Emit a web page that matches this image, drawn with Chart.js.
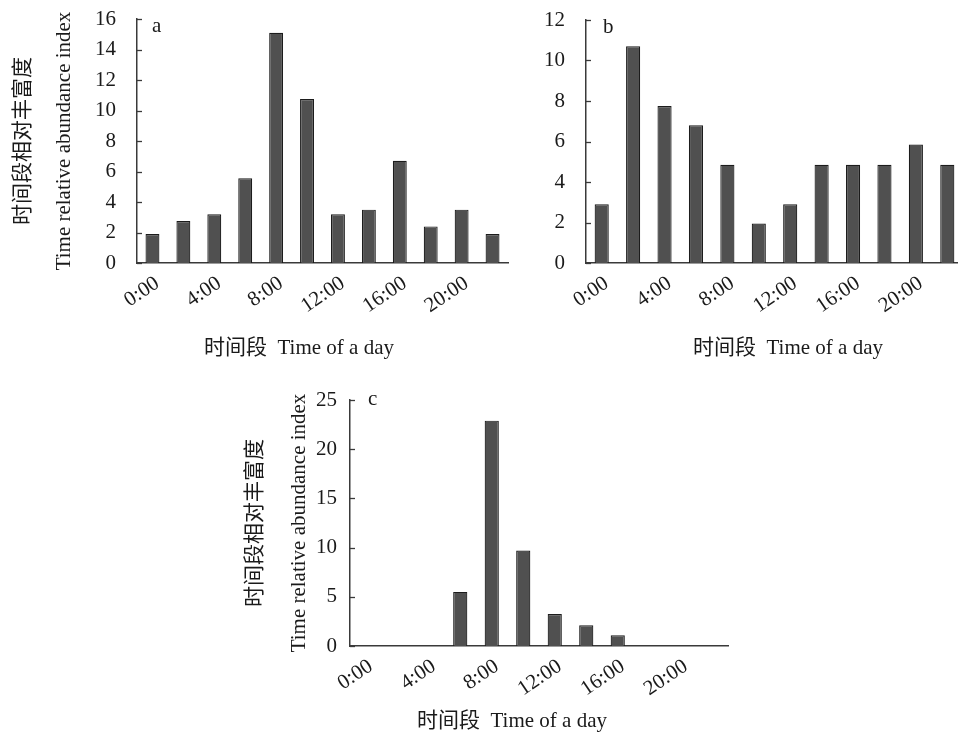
<!DOCTYPE html>
<html>
<head>
<meta charset="utf-8">
<script src="https://cdn.jsdelivr.net/npm/chart.js@4.4.1/dist/chart.umd.min.js"></script>
<style>
  html, body { margin: 0; padding: 0; background: #fff; }
  body { position: relative; width: 958px; height: 733px; overflow: hidden; }
  canvas { position: absolute; }
  .cap { position: absolute; font: 21px "Liberation Serif", "Noto Sans CJK SC", serif; color: #1a1a1a;
         white-space: pre; line-height: 1; transform: translate(-50%, -50%); }
  .tag { position: absolute; font: 21px "Liberation Serif", serif; line-height: 20px; color: #1a1a1a; }
</style>
</head>
<body>
<canvas id="chartA" width="520" height="370" style="left:0;top:0"></canvas>
<canvas id="chartB" width="460" height="370" style="left:520px;top:0"></canvas>
<canvas id="chartC" width="520" height="353" style="left:230px;top:380px"></canvas>

<div class="tag" style="left:152px;top:15px">a</div>
<div class="tag" style="left:603px;top:16px">b</div>
<div class="tag" style="left:368px;top:388px">c</div>

<div class="cap" style="left:299px;top:347px">时间段  Time of a day</div>
<div class="cap" style="left:788px;top:347px">时间段  Time of a day</div>
<div class="cap" style="left:512px;top:720px">时间段  Time of a day</div>

<script>
const hours = ['0:00', '2:00', '4:00', '6:00', '8:00', '10:00', '12:00', '14:00', '16:00', '18:00', '20:00', '22:00'];
const shownHours = ['0:00', '4:00', '8:00', '12:00', '16:00', '20:00'];

const valuesA = [1.9, 2.75, 3.2, 5.55, 15.1, 10.75, 3.2, 3.5, 6.7, 2.4, 3.5, 1.9];
const valuesB = [2.9, 10.7, 7.75, 6.8, 4.85, 1.95, 2.9, 4.85, 4.85, 4.85, 5.85, 4.85];
const valuesC = [0, 0, 0, 5.5, 22.9, 9.7, 3.25, 2.1, 1.1, 0, 0, 0];

const yRangeA = [0, 16, 2];
const yRangeB = [0, 12, 2];
const yRangeC = [0, 25, 5];

const yTitle = ['时间段相对丰富度', 'Time relative abundance index'];

const FONT = '"Liberation Serif", "Noto Sans CJK SC", serif';
const INK = '#1a1a1a';
const AXIS = '#3a3a3a';

// short tick marks pointing into the plot, like the original
const innerTicks = {
    id: 'innerTicks',
    afterDraw(chart) {
        const y = chart.scales.y, ctx = chart.ctx, left = chart.chartArea.left;
        ctx.save();
        ctx.strokeStyle = AXIS;
        ctx.lineWidth = 1.3;
        y.ticks.forEach((t, i) => {
            const py = Math.round(y.getPixelForTick(i)) + 0.5;
            ctx.beginPath();
            ctx.moveTo(left, py);
            ctx.lineTo(left + 5, py);
            ctx.stroke();
        });
        ctx.restore();
    }
};

function barChart(id, values, range, o) {
    new Chart(document.getElementById(id), {
        type: 'bar',
        data: {
            labels: hours,
            datasets: [{
                data: values,
                backgroundColor: '#505050',
                borderColor: '#1c1c1c',
                borderWidth: 1.2,
                borderSkipped: 'bottom',
                barPercentage: 0.45,
                categoryPercentage: 1
            }]
        },
        options: {
            responsive: false,
            animation: false,
            layout: { padding: { top: o.top, right: o.right, left: 0, bottom: 0 } },
            plugins: { legend: { display: false }, tooltip: { enabled: false } },
            scales: {
                x: {
                    grid: { display: false, drawTicks: false },
                    border: { display: true, color: AXIS, width: 1.5 },
                    ticks: {
                        color: INK,
                        font: { family: FONT, size: 21 },
                        autoSkip: false,
                        maxRotation: 34,
                        minRotation: 34,
                        padding: 8,
                        labelOffset: 5,
                        callback: (v, i) => shownHours.includes(hours[i]) ? hours[i] : ''
                    },
                    afterFit: s => { s.height = o.xHeight; }
                },
                y: {
                    min: range[0],
                    max: range[1],
                    grid: { display: false, drawTicks: false },
                    border: { display: true, color: AXIS, width: 1.5 },
                    ticks: {
                        stepSize: range[2],
                        color: INK,
                        padding: o.tickPad,
                        font: { family: FONT, size: 21 }
                    },
                    title: {
                        display: o.showTitle,
                        text: yTitle,
                        color: INK,
                        padding: { top: 3, bottom: 0 },
                        font: { family: FONT, size: 21, lineHeight: o.titleLine }
                    },
                    afterFit: s => {
                        s.width = o.yWidth;
                        // tick padding should not push the plot down
                        s.paddingTop = 0;
                        s.paddingBottom = 0;
                    }
                }
            }
        },
        plugins: [innerTicks]
    });
}

barChart('chartA', valuesA, yRangeA, { top: 19, right: 12, xHeight: 107, yWidth: 137, tickPad: 21, showTitle: true, titleLine: 1.95 });
barChart('chartB', valuesB, yRangeB, { top: 20, right: 17, xHeight: 107, yWidth: 66, tickPad: 21, showTitle: false, titleLine: 1.95 });
barChart('chartC', valuesC, yRangeC, { top: 20, right: 22, xHeight: 87, yWidth: 120, tickPad: 13, showTitle: true, titleLine: 2.1 });
</script>
</body>
</html>
